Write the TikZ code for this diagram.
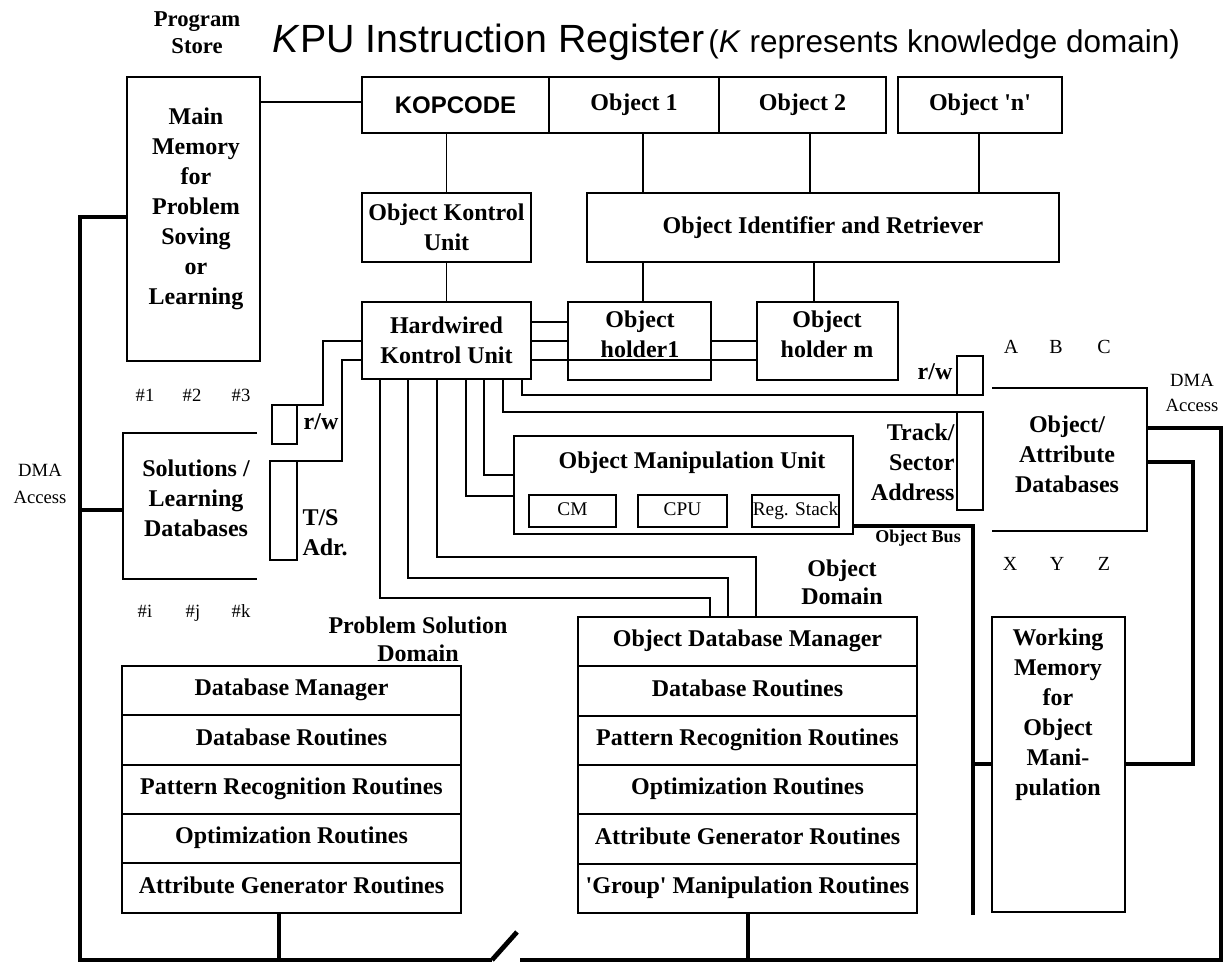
\documentclass[tikz,border=0pt]{standalone}
\usepackage{fontspec}
\setmainfont{Liberation Serif}
\newfontfamily\arialfont{Liberation Sans}
\usetikzlibrary{positioning}

\tikzset{every picture/.style={line width=0.75pt}}
\tikzset{
	box/.style={draw, line width=1.3pt, inner sep=0pt, outer sep=0pt, align=center, font=\bfseries\fontsize{18}{22.5}\selectfont},
	row/.style={box, minimum width=254.25pt, minimum height=37pt, text height=12.5pt, text depth=5pt},
	cell/.style={box, font=\fontsize{14.5}{17}\selectfont, minimum height=24pt, text height=10pt, text depth=4pt},
	lbl/.style={align=center, inner sep=0pt, font=\bfseries\fontsize{18}{22.5}\selectfont},
	small/.style={align=center, inner sep=0pt, font=\fontsize{14}{20}\selectfont},
	tag/.style={inner sep=0pt, text height=10pt, text depth=3pt, font=\fontsize{14}{17}\selectfont},
	wire/.style={line width=1.3pt},
	bus/.style={line width=3.6pt}
}

\begin{document}
\begin{tikzpicture}[x=0.75pt,y=0.75pt,yscale=-1,xscale=1]
	\useasboundingbox (0,0) rectangle (1225,964);

	% Title
	\node[anchor=base west, inner sep=0pt, font=\arialfont] (title) at (272,52) {{\fontsize{29.5}{34}\selectfont\textit{K}PU Instruction Register} {\fontsize{23.6}{28}\selectfont(\textit{K} represents knowledge domain)}};
	\node[lbl, font=\bfseries\fontsize{17}{20}\selectfont] (progstore) at (197,33) {Program\\Store};

	% Instruction register
	\node[box, minimum width=140.25pt, minimum height=42pt, font=\arialfont\bfseries\fontsize{18}{22}\selectfont] (kop) at (455.5,105) {KOPCODE};
	\node[box, minimum width=127.5pt, minimum height=42pt] (obj1) at (634,105) {Object 1};
	\node[box, minimum width=125.25pt, minimum height=42pt] (obj2) at (802.5,105) {Object 2};
	\node[box, minimum width=123pt, minimum height=42pt] (objn) at (980,105) {Object \textquotesingle n\textquotesingle};

	% Control units
	\node[box, minimum width=126.75pt, minimum height=51.75pt] (oku) at (446.5,227.5) {Object Kontrol\\Unit};
	\node[box, minimum width=354pt, minimum height=51.75pt] (oir) at (823,227.5) {Object Identifier and Retriever};
	\node[box, minimum width=126.75pt, minimum height=57.75pt] (hku) at (446.5,340.5) {Hardwired\\Kontrol Unit};
	\node[box, minimum width=107.25pt, minimum height=58.5pt] (hold1) at (639.5,341) {};
	\node[lbl] (hold1txt) at (640,334) {Object\\holder1};
	\node[box, minimum width=105.75pt, minimum height=58.5pt] (holdm) at (827.5,341) {};
	\node[lbl] (holdmtxt) at (827,334) {Object\\holder m};

	% Main memory
	\node[box, minimum width=99.75pt, minimum height=213pt] (mainmem) at (193.5,219) {};
	\node[lbl] (mainmemtxt) at (196,209) {Main\\Memory\\for\\Problem\\Soving\\or\\Learning};

	% Solutions / learning databases
	\node[inner sep=0pt, outer sep=0pt, minimum width=100.5pt, minimum height=109.5pt] (soldb) at (190,506) {};
	\node[lbl] (soldbtxt) at (196,498) {Solutions /\\Learning\\Databases};
	\node[box, minimum width=18.75pt, minimum height=29.25pt] (rwl) at (284.5,424.5) {};
	\node[lbl] (rwltxt) at (321,422) {r/w};
	\node[box, minimum width=20.25pt, minimum height=74.25pt] (tsl) at (283.5,510.5) {};
	\node[lbl, anchor=west, align=left] (tsltxt) at (302,533) {T/S\\Adr.};
	\node[tag] (n1) at (145,397) {\#1};
	\node[tag] (n2) at (192,397) {\#2};
	\node[tag] (n3) at (241,397) {\#3};
	\node[tag] (ni) at (145,613) {\#i};
	\node[tag] (nj) at (193,613) {\#j};
	\node[tag] (nk) at (241,613) {\#k};
	\node[small] (dmal) at (40,484) {DMA\\Access};

	% Object manipulation unit
	\node[box, minimum width=254.25pt, minimum height=73.5pt] (omu) at (683.5,485) {};
	\node[lbl] (omutxt) at (692,463) {Object Manipulation Unit};
	\node[cell, minimum width=65.25pt] (cm) at (572.5,511) {CM};
	\node[cell, minimum width=66.75pt] (cpu) at (682.5,511) {CPU};
	\node[cell, minimum width=65.25pt] (rst) at (795.5,511) {Reg. Stack};

	% Object / attribute databases
	\node[box, minimum width=19.5pt, minimum height=29.25pt] (rwr) at (970,375.5) {};
	\node[lbl] (rwrtxt) at (935,372) {r/w};
	\node[box, minimum width=19.5pt, minimum height=73.5pt] (tsr) at (970,461) {};
	\node[lbl, anchor=east, align=right] (tsrtxt) at (955,462) {Track/\\Sector\\Address};
	\node[inner sep=0pt, outer sep=0pt, minimum width=116.25pt, minimum height=107.25pt] (oadb) at (1069.5,459.5) {};
	\node[lbl] (oadbtxt) at (1067,454) {Object/\\Attribute\\Databases};
	\node[tag, font=\fontsize{15}{18}\selectfont] (la) at (1011,349) {A};
	\node[tag, font=\fontsize{15}{18}\selectfont] (lb) at (1056,349) {B};
	\node[tag, font=\fontsize{15}{18}\selectfont] (lc) at (1104,349) {C};
	\node[tag, font=\fontsize{15}{18}\selectfont] (lx) at (1010,566) {X};
	\node[tag, font=\fontsize{15}{18}\selectfont] (ly) at (1057,566) {Y};
	\node[tag, font=\fontsize{15}{18}\selectfont] (lz) at (1104,566) {Z};
	\node[small, font=\fontsize{14}{19}\selectfont] (dmar) at (1192,393) {DMA\\Access};
	\node[lbl, font=\bfseries\fontsize{13.5}{16}\selectfont] (objbus) at (918,538) {Object Bus};

	% Working memory
	\node[box, minimum width=99.75pt, minimum height=221.25pt] (wm) at (1058.5,764.5) {};
	\node[lbl] (wmtxt) at (1058,715) {Working\\Memory\\for\\Object\\Mani-\\pulation};

	% Problem solution domain
	\node[lbl, font=\bfseries\fontsize{18}{21}\selectfont] (psd) at (418,639) {Problem Solution\\Domain};
	\node[row] (ps1) at (291.5,690.67) {Database Manager};
	\node[row, below=0pt of ps1] (ps2) {Database Routines};
	\node[row, below=0pt of ps2] (ps3) {Pattern Recognition Routines};
	\node[row, below=0pt of ps3] (ps4) {Optimization Routines};
	\node[row, below=0pt of ps4] (ps5) {Attribute Generator Routines};

	% Object domain
	\node[lbl, font=\bfseries\fontsize{18}{21}\selectfont] (objdom) at (842,582) {Object\\Domain};
	\node[row] (od1) at (747.5,641.67) {Object Database Manager};
	\node[row, below=0pt of od1] (od2) {Database Routines};
	\node[row, below=0pt of od2] (od3) {Pattern Recognition Routines};
	\node[row, below=0pt of od3] (od4) {Optimization Routines};
	\node[row, below=0pt of od4] (od5) {Attribute Generator Routines};
	\node[row, below=0pt of od5] (od6) {\textquotesingle Group\textquotesingle\ Manipulation Routines};

	% open boxes
	\draw[wire] (soldb.north east) -- (soldb.north west) -- (soldb.south west) -- (soldb.south east);
	\draw[wire] (oadb.north west) -- (oadb.north east) -- (oadb.south east) -- (oadb.south west);

	% thin connectors
	\draw[wire] (mainmem.east |- 0,102) -- (kop.west |- 0,102);
	\draw[wire] (oku.north |- kop.south) -- (oku.north);
	\draw[wire] (obj1.south -| 643,0) -- (oir.north -| 643,0);
	\draw[wire] (obj2.south -| 810,0) -- (oir.north -| 810,0);
	\draw[wire] (objn.south -| 979,0) -- (oir.north -| 979,0);
	\draw[wire] (oku.south) -- (hku.north);
	\draw[wire] (oir.south -| 643,0) -- (hold1.north -| 643,0);
	\draw[wire] (oir.south -| 814,0) -- (holdm.north -| 814,0);
	\draw[wire] (hku.east |- 0,322) -- (hold1.west |- 0,322);
	\draw[wire] (hku.east |- 0,341) -- (hold1.west |- 0,341);
	\draw[wire] (hku.east |- 0,360) -- (holdm.west |- 0,360);
	\draw[wire] (hold1.east |- 0,341) -- (holdm.west |- 0,341);
	\draw[wire] (hku.west |- 0,341) -| (323,405) -- (rwl.north east);
	\draw[wire] (hku.west |- 0,360) -| (342,461) -- (tsl.north east);
	\draw[wire] (hku.south -| 380,0) |- (710,598) -- (od1.north -| 710,0);
	\draw[wire] (hku.south -| 408,0) |- (728,578) -- (od1.north -| 728,0);
	\draw[wire] (hku.south -| 437,0) |- (756,557) -- (od1.north -| 756,0);
	\draw[wire] (hku.south -| 466,0) |- (omu.west |- 0,496);
	\draw[wire] (hku.south -| 484,0) |- (omu.west |- 0,475);
	\draw[wire] (hku.south -| 503,0) |- (tsr.north west);
	\draw[wire] (hku.south -| 522,0) |- (rwr.south west);

	% buses
	\coordinate (swa) at (492,960);
	\coordinate (swb) at (517,932);
	\coordinate (swc) at (520,960);
	\draw[bus] (mainmem.west |- 0,217) -| (80,960) -- (swa);
	\draw[bus] (soldb.west |- 0,510) -- (80,510);
	\draw[bus] (swa) -- (swb);
	\draw[bus] (swc) -- (1221,960) |- (oadb.east |- 0,428);
	\draw[bus] (ps5.south -| 279,0) -- (279,960);
	\draw[bus] (od6.south -| 748,0) -- (748,960);
	\draw[bus] (omu.east |- 0,526) -| (973,915);
	\draw[bus] (973,764) -- (wm.west |- 0,764);
	\draw[bus] (oadb.east |- 0,462) -| (1193,764) -- (wm.east |- 0,764);

\end{tikzpicture}
\end{document}
